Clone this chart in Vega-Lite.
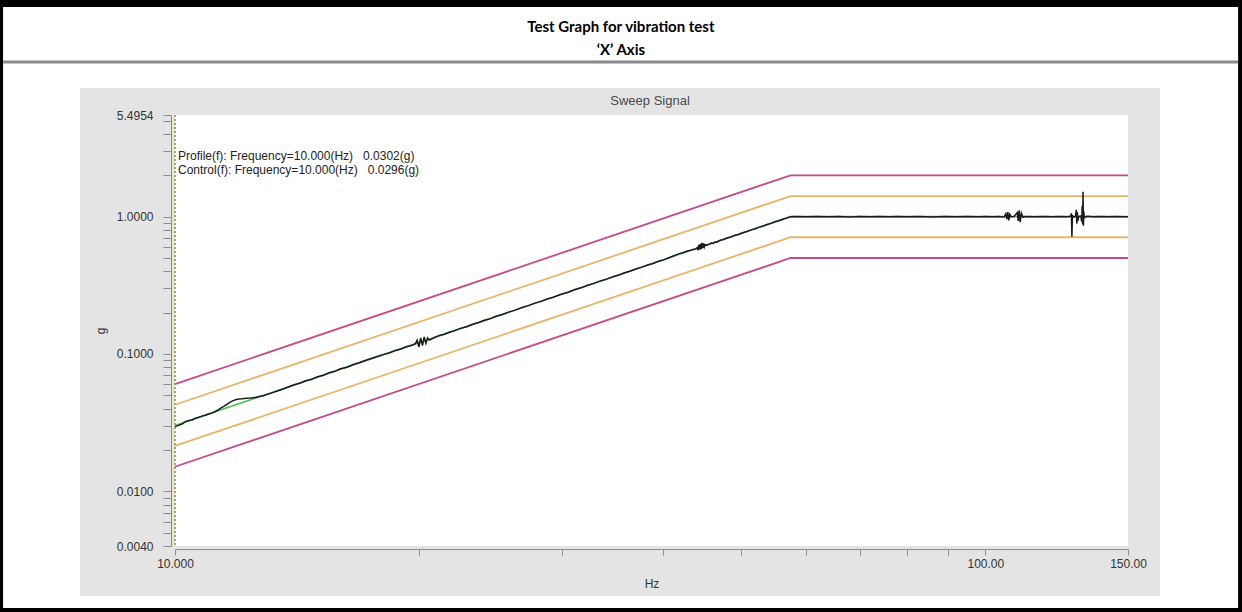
{
  "$schema": "https://vega.github.io/schema/vega-lite/v6.json",
  "width": 953,
  "height": 431,
  "autosize": {"type": "none"},
  "padding": {"left": 175, "top": 115, "right": 114, "bottom": 66},
  "background": "#000000",
  "config": {"view": {"stroke": null}, "font": "Liberation Sans"},
  "resolve": {"axis": {"x": "independent", "y": "independent"}},
  "datasets": {
    "limits": [
      {"line": "abort_hi", "f": 10, "g": 0.0604}, {"line": "abort_hi", "f": 57.5, "g": 2.0}, {"line": "abort_hi", "f": 150, "g": 2.0},
      {"line": "alarm_hi", "f": 10, "g": 0.0427}, {"line": "alarm_hi", "f": 57.5, "g": 1.4125}, {"line": "alarm_hi", "f": 150, "g": 1.4125},
      {"line": "alarm_lo", "f": 10, "g": 0.0214}, {"line": "alarm_lo", "f": 57.5, "g": 0.7079}, {"line": "alarm_lo", "f": 150, "g": 0.7079},
      {"line": "abort_lo", "f": 10, "g": 0.0151}, {"line": "abort_lo", "f": 57.5, "g": 0.5}, {"line": "abort_lo", "f": 150, "g": 0.5}
    ],
    "profile": [
      {"f": 10, "g": 0.0302}, {"f": 57.5, "g": 1.0}, {"f": 150, "g": 1.0}
    ],
    "control": [
      {"f": 10.0, "g": 0.0296}, {"f": 10.1, "g": 0.0302}, {"f": 10.2, "g": 0.0309}, {"f": 10.3, "g": 0.0322},
      {"f": 10.4, "g": 0.0328}, {"f": 10.5, "g": 0.0331}, {"f": 10.6, "g": 0.0341}, {"f": 10.7, "g": 0.0346},
      {"f": 10.8, "g": 0.0353}, {"f": 10.9, "g": 0.0358}, {"f": 11.0, "g": 0.0366}, {"f": 11.1, "g": 0.0371},
      {"f": 11.2, "g": 0.0380}, {"f": 11.3, "g": 0.0391}, {"f": 11.4, "g": 0.0405}, {"f": 11.5, "g": 0.0418},
      {"f": 11.6, "g": 0.0432}, {"f": 11.7, "g": 0.0446}, {"f": 11.8, "g": 0.0458}, {"f": 11.9, "g": 0.0466},
      {"f": 12.0, "g": 0.0470}, {"f": 12.1, "g": 0.0472}, {"f": 12.25, "g": 0.0476}, {"f": 12.4, "g": 0.0479},
      {"f": 12.55, "g": 0.0483}, {"f": 12.7, "g": 0.0490}, {"f": 12.85, "g": 0.0497}, {"f": 13.0, "g": 0.0508},
      {"f": 13.2, "g": 0.0523}, {"f": 13.4, "g": 0.0540}, {"f": 13.6, "g": 0.0556}, {"f": 13.8, "g": 0.0575},
      {"f": 14.0, "g": 0.0594}, {"f": 14.25, "g": 0.0612}, {"f": 14.5, "g": 0.0638}, {"f": 14.75, "g": 0.0655},
      {"f": 15.0, "g": 0.0683}, {"f": 15.25, "g": 0.0701}, {"f": 15.5, "g": 0.0731}, {"f": 15.75, "g": 0.0748},
      {"f": 16.0, "g": 0.0780}, {"f": 16.3, "g": 0.0801}, {"f": 16.6, "g": 0.0838}, {"f": 16.9, "g": 0.0866},
      {"f": 17.2, "g": 0.0900}, {"f": 17.5, "g": 0.0932}, {"f": 17.8, "g": 0.0963}, {"f": 18.1, "g": 0.0994},
      {"f": 18.4, "g": 0.1021}, {"f": 18.7, "g": 0.1062}, {"f": 19.0, "g": 0.1088}, {"f": 19.3, "g": 0.1130},
      {"f": 19.6, "g": 0.1158}, {"f": 19.8, "g": 0.1190}, {"f": 19.9, "g": 0.1262}, {"f": 20.0, "g": 0.1125},
      {"f": 20.1, "g": 0.1312}, {"f": 20.2, "g": 0.1150}, {"f": 20.3, "g": 0.1330}, {"f": 20.4, "g": 0.1195},
      {"f": 20.5, "g": 0.1310}, {"f": 20.6, "g": 0.1262}, {"f": 20.9, "g": 0.1318}, {"f": 21.2, "g": 0.1365},
      {"f": 21.5, "g": 0.1394}, {"f": 21.8, "g": 0.1440}, {"f": 22.1, "g": 0.1474}, {"f": 22.5, "g": 0.1536},
      {"f": 22.9, "g": 0.1581}, {"f": 23.3, "g": 0.1648}, {"f": 23.7, "g": 0.1695}, {"f": 24.1, "g": 0.1762},
      {"f": 24.5, "g": 0.1810}, {"f": 24.9, "g": 0.1880}, {"f": 25.3, "g": 0.1932}, {"f": 25.8, "g": 0.2018},
      {"f": 26.3, "g": 0.2086}, {"f": 26.8, "g": 0.2178}, {"f": 27.3, "g": 0.2249}, {"f": 27.8, "g": 0.2345},
      {"f": 28.3, "g": 0.2417}, {"f": 28.8, "g": 0.2515}, {"f": 29.3, "g": 0.2591}, {"f": 29.9, "g": 0.2712},
      {"f": 30.5, "g": 0.2807}, {"f": 31.1, "g": 0.2932}, {"f": 31.7, "g": 0.3032}, {"f": 32.3, "g": 0.3166},
      {"f": 32.9, "g": 0.3267}, {"f": 33.5, "g": 0.3405}, {"f": 34.1, "g": 0.3507}, {"f": 34.7, "g": 0.3652},
      {"f": 35.3, "g": 0.3760}, {"f": 35.9, "g": 0.3908}, {"f": 36.5, "g": 0.4021}, {"f": 37.1, "g": 0.4175},
      {"f": 37.7, "g": 0.4290}, {"f": 38.3, "g": 0.4449}, {"f": 38.9, "g": 0.4562}, {"f": 39.5, "g": 0.4730},
      {"f": 40.1, "g": 0.4846}, {"f": 40.7, "g": 0.5020}, {"f": 41.2, "g": 0.5170}, {"f": 41.6, "g": 0.5290},
      {"f": 42.0, "g": 0.5405}, {"f": 42.4, "g": 0.5490}, {"f": 42.8, "g": 0.5590}, {"f": 43.2, "g": 0.5680},
      {"f": 43.6, "g": 0.5760}, {"f": 43.9, "g": 0.5820}, {"f": 44.1, "g": 0.5930}, {"f": 44.2, "g": 0.5700},
      {"f": 44.3, "g": 0.6230}, {"f": 44.4, "g": 0.5750}, {"f": 44.5, "g": 0.6350}, {"f": 44.6, "g": 0.5800},
      {"f": 44.7, "g": 0.6450}, {"f": 44.8, "g": 0.5900}, {"f": 44.9, "g": 0.6380}, {"f": 45.0, "g": 0.6020},
      {"f": 45.1, "g": 0.6250}, {"f": 45.3, "g": 0.6190}, {"f": 45.6, "g": 0.6290}, {"f": 45.9, "g": 0.6420},
      {"f": 46.2, "g": 0.6380}, {"f": 46.4, "g": 0.6560}, {"f": 46.6, "g": 0.6490}, {"f": 47.0, "g": 0.6700},
      {"f": 47.5, "g": 0.6810}, {"f": 48.0, "g": 0.6990}, {"f": 48.5, "g": 0.7100}, {"f": 49.0, "g": 0.7290},
      {"f": 49.6, "g": 0.7420}, {"f": 50.2, "g": 0.7640}, {"f": 50.8, "g": 0.7790}, {"f": 51.4, "g": 0.8010},
      {"f": 52.0, "g": 0.8160}, {"f": 52.6, "g": 0.8390}, {"f": 53.2, "g": 0.8540}, {"f": 53.8, "g": 0.8770},
      {"f": 54.4, "g": 0.8930}, {"f": 55.0, "g": 0.9170}, {"f": 55.6, "g": 0.9330}, {"f": 56.2, "g": 0.9570},
      {"f": 56.8, "g": 0.9750}, {"f": 57.5, "g": 0.9980}, {"f": 58.5, "g": 1.0020}, {"f": 60, "g": 0.9970},
      {"f": 62, "g": 1.0030}, {"f": 64, "g": 0.9980}, {"f": 66, "g": 1.0010}, {"f": 68, "g": 0.9960},
      {"f": 70, "g": 1.0040}, {"f": 72, "g": 0.9990}, {"f": 74, "g": 1.0020}, {"f": 76, "g": 0.9970},
      {"f": 78, "g": 1.0030}, {"f": 80, "g": 0.9990}, {"f": 83, "g": 1.0010}, {"f": 86, "g": 0.9960},
      {"f": 89, "g": 1.0030}, {"f": 92, "g": 0.9980}, {"f": 95, "g": 1.0020}, {"f": 98, "g": 0.9970},
      {"f": 100, "g": 1.0010}, {"f": 102, "g": 0.9980}, {"f": 104, "g": 1.0030}, {"f": 105.5, "g": 0.9950},
      {"f": 106.0, "g": 1.0500}, {"f": 106.3, "g": 0.9600}, {"f": 106.6, "g": 1.0800}, {"f": 106.9, "g": 0.9400},
      {"f": 107.2, "g": 1.0400}, {"f": 107.6, "g": 1.0000}, {"f": 108.5, "g": 1.0020}, {"f": 109.5, "g": 1.0700},
      {"f": 109.8, "g": 0.9300}, {"f": 110.1, "g": 1.1100}, {"f": 110.4, "g": 0.9100}, {"f": 110.8, "g": 1.0600},
      {"f": 111.3, "g": 0.9900}, {"f": 112, "g": 1.0020}, {"f": 115, "g": 0.9980}, {"f": 118, "g": 1.0030},
      {"f": 121, "g": 0.9970}, {"f": 124, "g": 1.0010}, {"f": 126.5, "g": 0.9980}, {"f": 127.5, "g": 1.0100},
      {"f": 127.7, "g": 1.0600}, {"f": 127.9, "g": 0.7150}, {"f": 128.1, "g": 1.0300}, {"f": 128.4, "g": 0.9900},
      {"f": 129.2, "g": 1.0050}, {"f": 129.5, "g": 1.1200}, {"f": 129.7, "g": 0.8900}, {"f": 129.9, "g": 1.0800},
      {"f": 130.1, "g": 0.9300}, {"f": 130.4, "g": 1.0000}, {"f": 131.2, "g": 1.0100}, {"f": 131.5, "g": 0.9200},
      {"f": 131.7, "g": 1.2000}, {"f": 131.85, "g": 0.8800}, {"f": 132.0, "g": 1.5200}, {"f": 132.15, "g": 0.8600},
      {"f": 132.3, "g": 1.0900}, {"f": 132.5, "g": 0.9800}, {"f": 133.5, "g": 1.0050}, {"f": 136, "g": 0.9970},
      {"f": 139, "g": 1.0020}, {"f": 142, "g": 0.9980}, {"f": 145, "g": 1.0010}, {"f": 148, "g": 0.9970},
      {"f": 150, "g": 1.0000}
    ]
  },
  "layer": [
    {
      "data": {"values": [{}]},
      "mark": {"type": "rect", "color": "#ffffff"},
      "encoding": {
        "x": {"datum": 6.135, "type": "quantitative", "scale": {"type": "log", "domain": [10, 150], "nice": false}, "axis": null},
        "x2": {"datum": 205.1},
        "y": {"datum": 33.6, "type": "quantitative", "scale": {"type": "log", "domain": [0.004, 5.4954], "nice": false}, "axis": null},
        "y2": {"datum": 0.001413}
      }
    },
    {
      "data": {"values": [{}]},
      "mark": {"type": "rect", "color": "#e4e4e4"},
      "encoding": {
        "x": {"datum": 7.633, "type": "quantitative", "scale": {"type": "log", "domain": [10, 150], "nice": false}, "axis": null},
        "x2": {"datum": 164.3},
        "y": {"datum": 8.638, "type": "quantitative", "scale": {"type": "log", "domain": [0.004, 5.4954], "nice": false}, "axis": null},
        "y2": {"datum": 0.001729}
      }
    },
    {
      "data": {"values": [{}]},
      "mark": {"type": "rect", "color": "#ffffff"},
      "encoding": {
        "x": {"datum": 10, "type": "quantitative", "scale": {"type": "log", "domain": [10, 150], "nice": false}, "axis": null},
        "x2": {"datum": 150},
        "y": {"datum": 5.4954, "type": "quantitative", "scale": {"type": "log", "domain": [0.004, 5.4954], "nice": false}, "axis": null},
        "y2": {"datum": 0.004}
      }
    },
    {
      "data": {"values": [{}]},
      "mark": {"type": "rule", "color": "#8a8a8a", "strokeWidth": 3},
      "encoding": {
        "x": {"datum": 6.135, "type": "quantitative", "scale": {"type": "log", "domain": [10, 150], "nice": false}, "axis": null},
        "x2": {"datum": 205.1},
        "y": {"datum": 13.36, "type": "quantitative", "scale": {"type": "log", "domain": [0.004, 5.4954], "nice": false}, "axis": null}
      }
    },
    {
      "data": {"values": [{}]},
      "mark": {"type": "text", "text": "Test Graph for vibration test", "font": "Lato", "fontSize": 15, "fontWeight": "bold", "color": "#000000", "align": "center", "baseline": "middle"},
      "encoding": {
        "x": {"datum": 35.5, "type": "quantitative", "scale": {"type": "log", "domain": [10, 150], "nice": false}, "axis": null},
        "y": {"datum": 24.01, "type": "quantitative", "scale": {"type": "log", "domain": [0.004, 5.4954], "nice": false}, "axis": null}
      }
    },
    {
      "data": {"values": [{}]},
      "mark": {"type": "text", "text": "‘X’ Axis", "font": "Lato", "fontSize": 15, "fontWeight": "bold", "color": "#000000", "align": "center", "baseline": "middle"},
      "encoding": {
        "x": {"datum": 35.5, "type": "quantitative", "scale": {"type": "log", "domain": [10, 150], "nice": false}, "axis": null},
        "y": {"datum": 16.33, "type": "quantitative", "scale": {"type": "log", "domain": [0.004, 5.4954], "nice": false}, "axis": null}
      }
    },
    {
      "data": {"values": [{}]},
      "mark": {"type": "text", "text": "Sweep Signal", "font": "Liberation Sans", "fontSize": 13, "color": "#4a4a4a", "align": "center", "baseline": "middle"},
      "encoding": {
        "x": {"datum": 38.57, "type": "quantitative", "scale": {"type": "log", "domain": [10, 150], "nice": false}, "axis": null},
        "y": {"datum": 6.946, "type": "quantitative", "scale": {"type": "log", "domain": [0.004, 5.4954], "nice": false}, "axis": null}
      }
    },
    {
      "data": {"values": [{}]},
      "mark": {"type": "rule", "color": "#b3ab35", "strokeWidth": 2, "strokeDash": [2, 2]},
      "encoding": {
        "x": {"datum": 10, "type": "quantitative", "scale": {"type": "log", "domain": [10, 150], "nice": false}, "axis": null},
        "y": {"datum": 5.4954, "type": "quantitative", "scale": {"type": "log", "domain": [0.004, 5.4954], "nice": false}, "axis": null},
        "y2": {"datum": 0.004}
      }
    },
    {
      "data": {"name": "limits"},
      "mark": {"type": "line", "strokeWidth": 1.8},
      "encoding": {
        "x": {"field": "f", "type": "quantitative", "scale": {"type": "log", "domain": [10, 150], "nice": false}, "axis": null},
        "y": {"field": "g", "type": "quantitative", "scale": {"type": "log", "domain": [0.004, 5.4954], "nice": false}, "axis": null},
        "color": {"field": "line", "type": "nominal", "scale": {"domain": ["abort_hi", "alarm_hi", "alarm_lo", "abort_lo"], "range": ["#c44a8c", "#eab36a", "#eab36a", "#c44a8c"]}, "legend": null}
      }
    },
    {
      "data": {"name": "profile"},
      "mark": {"type": "line", "strokeWidth": 1.6, "color": "#4fbf5a"},
      "encoding": {
        "x": {"field": "f", "type": "quantitative", "scale": {"type": "log", "domain": [10, 150], "nice": false}, "axis": null},
        "y": {"field": "g", "type": "quantitative", "scale": {"type": "log", "domain": [0.004, 5.4954], "nice": false}, "axis": null}
      }
    },
    {
      "data": {"name": "control"},
      "mark": {"type": "line", "strokeWidth": 1.5, "color": "#1a1a1a"},
      "encoding": {
        "x": {
          "field": "f", "type": "quantitative",
          "scale": {"type": "log", "domain": [10, 150], "nice": false},
          "axis": {
            "title": "Hz", "values": [10, 20, 30, 40, 50, 60, 70, 80, 90, 100, 150],
            "labelExpr": "datum.value == 10 ? '10.000' : datum.value == 100 ? '100.00' : datum.value == 150 ? '150.00' : ''",
            "grid": false, "zindex": 1, "offset": 3, "tickSize": 6, "tickColor": "#8c8c8c", "domainColor": "#8c8c8c",
            "labelFont": "Liberation Sans", "labelFontSize": 12, "labelColor": "#333333", "labelFlush": false, "labelOverlap": false, "labelPadding": 3,
            "titleFont": "Liberation Sans", "titleFontSize": 12, "titleFontWeight": "normal", "titleColor": "#333333", "titlePadding": 9
          }
        },
        "y": {
          "field": "g", "type": "quantitative",
          "scale": {"type": "log", "domain": [0.004, 5.4954], "nice": false},
          "axis": {
            "title": "g",
            "values": [0.004, 0.005, 0.006, 0.007, 0.008, 0.009, 0.01, 0.02, 0.03, 0.04, 0.05, 0.06, 0.07, 0.08, 0.09, 0.1, 0.2, 0.3, 0.4, 0.5, 0.6, 0.7, 0.8, 0.9, 1, 2, 3, 4, 5, 5.4954],
            "labelExpr": "datum.value == 0.004 ? '0.0040' : datum.value == 0.01 ? '0.0100' : datum.value == 0.1 ? '0.1000' : datum.value == 1 ? '1.0000' : datum.value == 5.4954 ? '5.4954' : ''",
            "grid": false, "zindex": 1, "offset": 4, "tickSize": 8, "tickColor": "#8c8c8c", "domainColor": "#8c8c8c",
            "labelFont": "Liberation Sans", "labelFontSize": 12, "labelColor": "#333333", "labelFlush": false, "labelOverlap": false, "labelPadding": 10,
            "titleFont": "Liberation Sans", "titleFontSize": 12, "titleFontWeight": "normal", "titleColor": "#333333", "titlePadding": 9
          }
        }
      }
    },
    {
      "data": {"values": [{}]},
      "mark": {"type": "text", "text": "Profile(f): Frequency=10.000(Hz)\u00a0\u00a0\u00a00.0302(g)", "font": "Liberation Sans", "fontSize": 12, "color": "#222222", "align": "left", "baseline": "middle", "dx": 3},
      "encoding": {
        "x": {"datum": 10, "type": "quantitative", "scale": {"type": "log", "domain": [10, 150], "nice": false}, "axis": null},
        "y": {"datum": 2.762, "type": "quantitative", "scale": {"type": "log", "domain": [0.004, 5.4954], "nice": false}, "axis": null}
      }
    },
    {
      "data": {"values": [{}]},
      "mark": {"type": "text", "text": "Control(f): Frequency=10.000(Hz)\u00a0\u00a0\u00a00.0296(g)", "font": "Liberation Sans", "fontSize": 12, "color": "#222222", "align": "left", "baseline": "middle", "dx": 3},
      "encoding": {
        "x": {"datum": 10, "type": "quantitative", "scale": {"type": "log", "domain": [10, 150], "nice": false}, "axis": null},
        "y": {"datum": 2.184, "type": "quantitative", "scale": {"type": "log", "domain": [0.004, 5.4954], "nice": false}, "axis": null}
      }
    }
  ]
}
